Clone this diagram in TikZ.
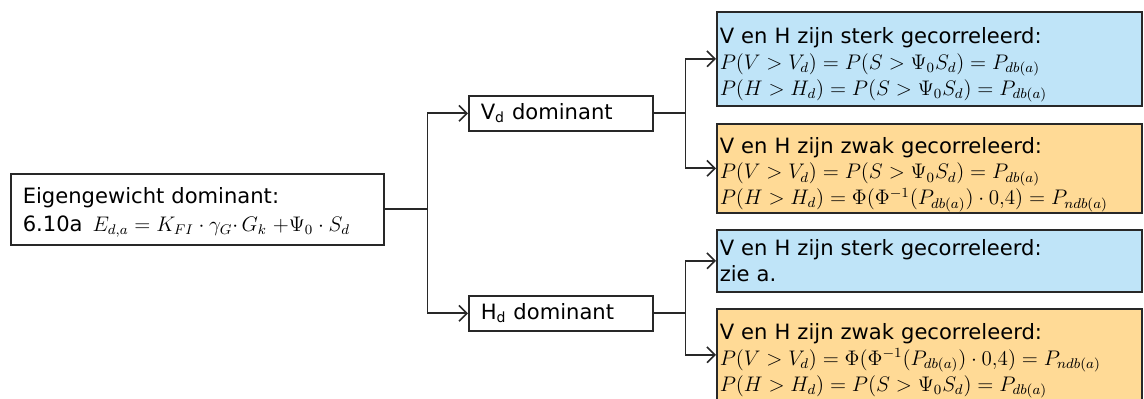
\documentclass[tikz,border=0pt]{standalone}
\usepackage[no-math]{fontspec}
\setmainfont{DejaVu Sans}
\usepackage{amsmath}
\usetikzlibrary{positioning,arrows.meta}
\definecolor{lichtblauw}{RGB}{191,228,248}
\definecolor{lichtoranje}{RGB}{255,218,150}
\definecolor{lijn}{RGB}{40,40,40}

\tikzset{
  blok/.style={draw=lijn, line width=0.9pt, rectangle, align=left, anchor=north west,
    inner ysep=0pt, font=\fontsize{12}{14.7}\selectfont},
  grijs/.style={blok, inner xsep=0.24cm},
  sterk/.style={blok, fill=lichtblauw, inner xsep=0.06cm, text width=8.38cm},
  zwak/.style={blok, fill=lichtoranje, inner xsep=0.06cm, text width=8.38cm},
  tak/.style={draw=lijn, line width=0.9pt},
  pijl/.style={tak, -{Straight Barb[length=4.5pt,width=9pt]}},
}
\newcommand{\hoog}{\rule{0pt}{16pt}}

\begin{document}
\begin{tikzpicture}[x=0.02cm,y=-0.02cm]
        \useasboundingbox (0,0) rectangle (1144,399);
        \node[grijs, text width=6.98cm, minimum height=1.42cm] (eigen) at (10,173)
            {\rule{0pt}{13pt}Eigengewicht dominant:\\[1pt]
             6.10a\hspace{0.2cm}$E_{d,a} = K_{FI}\cdot\gamma_G{\cdot}\,G_k\;{+}\Psi_0\cdot S_d$};
        \node[grijs, text width=3.2cm, minimum height=0.7cm] (vdom) at (468,95) {V\textsubscript{d} dominant};
        \node[grijs, text width=3.2cm, minimum height=0.7cm] (hdom) at (468,295) {H\textsubscript{d} dominant};
        \node[sterk, minimum height=1.88cm] (vsterk) at (716,11)
            {\hoog V en H zijn sterk gecorreleerd:\\
             $P(V > V_d) = P(S > \Psi_0 S_d) = P_{db(a)}$\\
             $P(H > H_d) = P(S > \Psi_0 S_d) = P_{db(a)}$};
        \node[zwak, minimum height=1.78cm] (vzwak) at (716,123)
            {\hoog V en H zijn zwak gecorreleerd:\\
             $P(V > V_d) = P(S > \Psi_0 S_d) = P_{db(a)}$\\
             $P(H > H_d) = \Phi(\Phi^{-1}(P_{db(a)})\cdot 0{,}4) = P_{ndb(a)}$};
        \node[sterk, minimum height=1.24cm] (hsterk) at (716,229)
            {V en H zijn sterk gecorreleerd:\\
             zie a.};
        \node[zwak, minimum height=1.84cm] (hzwak) at (716,308)
            {\hoog V en H zijn zwak gecorreleerd:\\
             $P(V > V_d) = \Phi(\Phi^{-1}(P_{db(a)})\cdot 0{,}4) = P_{ndb(a)}$\\
             $P(H > H_d) = P(S > \Psi_0 S_d) = P_{db(a)}$};
        % splitsingen
        \draw[tak] (eigen.east) -- ++(43,0) coordinate (s1);
        \draw[pijl] (s1) |- (vdom.west);
        \draw[pijl] (s1) |- (hdom.west);
        \draw[tak] (vdom.east) -- ++(32,0) coordinate (s2);
        \draw[pijl] (s2) |- (vsterk.west);
        \draw[pijl] (s2) |- (vzwak.west);
        \draw[tak] (hdom.east) -- ++(32,0) coordinate (s3);
        \draw[pijl] (s3) |- (hsterk.west);
        \draw[pijl] (s3) |- (hzwak.west);
\end{tikzpicture}
\end{document}
